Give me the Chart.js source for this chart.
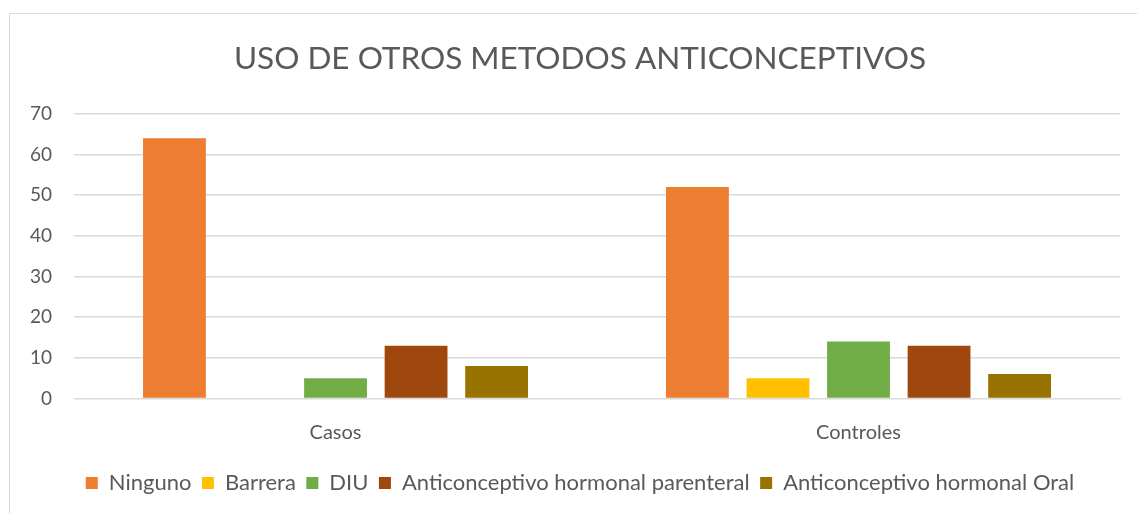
<!DOCTYPE html>
<html>
<head>
<meta charset="utf-8">
<script src="https://cdn.jsdelivr.net/npm/chart.js@4"></script>
<style>
  html, body { margin: 0; padding: 0; background: #fff; overflow: hidden; }
  #frame { position: absolute; left: 9px; top: 13px; width: 1140px; height: 510px; border: 1px solid #d9d9d9; }
  #wrap { position: absolute; left: 0; top: 0; width: 1137px; height: 513px; }
</style>
</head>
<body>
<div id="frame"></div>
<div id="wrap"><canvas id="myChart" width="1137" height="513"></canvas></div>
<script>
const categories = ['Casos', 'Controles'];
const seriesNames = ['Ninguno', 'Barrera', 'DIU', 'Anticonceptivo hormonal parenteral', 'Anticonceptivo hormonal Oral'];
const ninguno = [64, 52];
const barrera = [0, 5];
const diu = [5, 14];
const parenteral = [13, 13];
const oral = [8, 6];
const yTicks = [0, 10, 20, 30, 40, 50, 60, 70];

const colors = ['#ED7D31', '#FFC000', '#70AD47', '#9E480E', '#997300'];
const allValues = [ninguno, barrera, diu, parenteral, oral];

const fontFam = 'Lato, "Open Sans", sans-serif';
const textColor = '#595959';

// title and legend sit centred on the whole frame, a bit right of the plot
const shiftBlocks = {
  id: 'shiftBlocks',
  afterLayout(chart) {
    [chart.titleBlock, chart.legend].forEach(b => {
      if (b) { b.left += 16; b.right += 16; }
    });
  }
};

let ctx = document.querySelector('#myChart').getContext('2d');
let chart = new Chart(ctx, {
  type: 'bar',
  data: {
    labels: categories,
    datasets: seriesNames.map((name, i) => ({
      label: name,
      data: allValues[i],
      backgroundColor: colors[i],
      borderWidth: 0,
      categoryPercentage: 0.77,
      barPercentage: 0.78
    }))
  },
  plugins: [shiftBlocks],
  options: {
    responsive: false,
    animation: false,
    layout: { padding: { left: 8, right: 17, top: 0, bottom: 9 } },
    plugins: {
      title: {
        display: true,
        text: 'USO DE OTROS METODOS ANTICONCEPTIVOS',
        color: textColor,
        font: { family: fontFam, size: 31.5, weight: 'normal' },
        padding: { top: 40, bottom: 36 }
      },
      legend: {
        position: 'bottom',
        labels: {
          color: textColor,
          font: { family: fontFam, size: 22 },
          boxWidth: 12,
          boxHeight: 12,
          padding: 10.5
        }
      },
      tooltip: { enabled: false }
    },
    scales: {
      x: {
        grid: { display: false },
        border: { color: '#d9d9d9' },
        ticks: { color: textColor, font: { family: fontFam, size: 20 }, padding: 14 },
        afterFit: (axis) => { axis.height += 3; }
      },
      y: {
        min: 0,
        max: 70,
        afterBuildTicks: (axis) => { axis.ticks = yTicks.map(v => ({ value: v })); },
        grid: { color: '#d9d9d9', lineWidth: 1.5, drawTicks: false },
        border: { display: false },
        ticks: { color: textColor, font: { family: fontFam, size: 19 }, padding: 22 }
      }
    }
  }
});
</script>
</body>
</html>
